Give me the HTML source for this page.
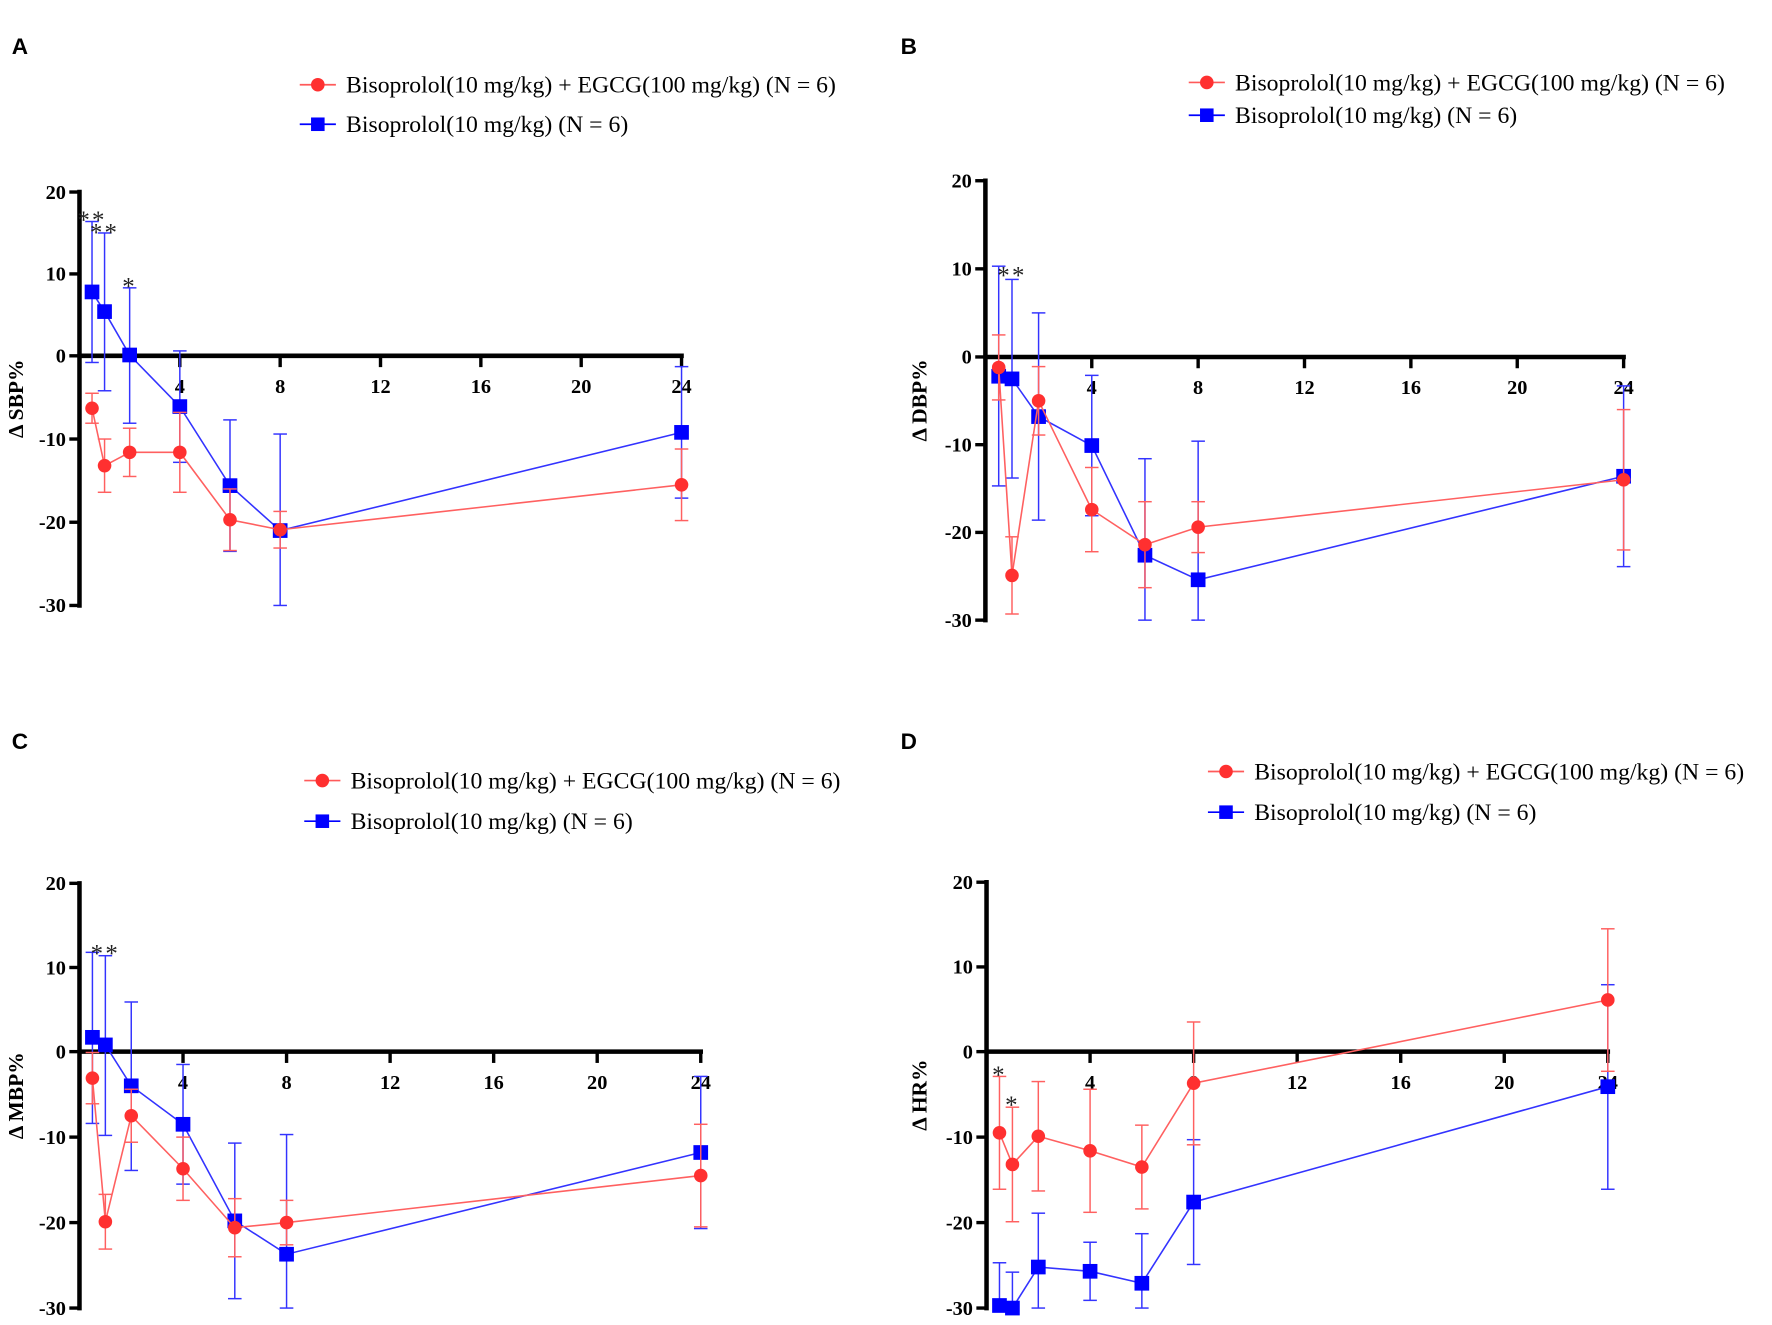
<!DOCTYPE html>
<html><head><meta charset="utf-8">
<style>
html,body{margin:0;padding:0;background:#fff;}
svg{display:block;}
text{font-family:"Liberation Serif",serif;}
.tick{font-weight:bold;font-size:18px;}
.leg{font-size:21px;}
.lab{font-family:"Liberation Sans",sans-serif;font-weight:bold;font-size:20px;}
.ytitle{font-weight:bold;font-size:19px;}
</style></head>
<body>
<svg id="fig" width="1772" height="1325" viewBox="0 0 1568 1173" xmlns="http://www.w3.org/2000/svg"></svg>
<script>
const times = [0.5, 1, 2, 4, 6, 8, 24];
const xTicks = [4, 8, 12, 16, 20, 24];
const yTicks = [20, 10, 0, -10, -20, -30];
const labelRed = "Bisoprolol(10 mg/kg) + EGCG(100 mg/kg) (N = 6)";
const labelBlue = "Bisoprolol(10 mg/kg) (N = 6)";

const sbpRed = [-6.3, -13.2, -11.6, -11.6, -19.7, -20.9, -15.5];
const sbpRedErr = [1.8, 3.2, 2.9, 4.8, 3.7, 2.2, 4.3];
const sbpBlue = [7.8, 5.4, 0.1, -6.1, -15.6, -21.0, -9.2];
const sbpBlueErr = [8.6, 9.6, 8.2, 6.7, 7.9, 11.6, 7.9];

const dbpRed = [-1.2, -24.9, -5.0, -17.4, -21.4, -19.4, -14.0];
const dbpRedErr = [3.7, 4.4, 3.9, 4.8, 4.9, 2.9, 8.0];
const dbpBlue = [-2.2, -2.5, -6.8, -10.1, -22.6, -25.4, -13.6];
const dbpBlueErr = [12.5, 11.3, 11.8, 8.0, 11.0, 15.8, 10.3];

const mbpRed = [-3.1, -19.9, -7.5, -13.7, -20.6, -20.0, -14.5];
const mbpRedErr = [3.0, 3.2, 3.1, 3.7, 3.4, 2.6, 6.0];
const mbpBlue = [1.7, 0.8, -4.0, -8.5, -19.8, -23.7, -11.8];
const mbpBlueErr = [10.1, 10.6, 9.9, 7.0, 9.1, 14.0, 8.9];

const hrRed = [-9.5, -13.2, -9.9, -11.6, -13.5, -3.7, 6.1];
const hrRedErr = [6.6, 6.7, 6.4, 7.2, 4.9, 7.2, 8.4];
const hrBlue = [-29.7, -30.0, -25.2, -25.7, -27.1, -17.6, -4.1];
const hrBlueErr = [5.0, 4.2, 6.3, 3.4, 5.8, 7.3, 12.0];

const svg = document.getElementById('fig');
const NS = "http://www.w3.org/2000/svg";
function mk(tag, attrs, parent){const e=document.createElementNS(NS,tag);for(const k in attrs)e.setAttribute(k,attrs[k]);(parent||svg).appendChild(e);return e;}

const panels = [
 {id:'a',letter:'A',lx:10,ly:48,ax:70,x24:603,y20:170,y0:315,ym30:536,title:'Δ SBP%',tx:20,
  legX:281,legY1:75,legY2:110,red:sbpRed,redE:sbpRedErr,blue:sbpBlue,blueE:sbpBlueErr,
  stars:[{t:0.5,v:16.3,s:'**'},{t:1,v:14.8,s:'**'},{t:2,v:8.2,s:'*'}]},
 {id:'b',letter:'B',lx:797,ly:48,ax:872,x24:1437,y20:160,y0:316,ym30:549,title:'Δ DBP%',tx:820,
  legX:1068,legY1:73,legY2:102,red:dbpRed,redE:dbpRedErr,blue:dbpBlue,blueE:dbpBlueErr,
  stars:[{t:1,v:9.0,s:'**'}]},
 {id:'c',letter:'C',lx:10,ly:663,ax:70,x24:620,y20:782,y0:931,ym30:1158,title:'Δ MBP%',tx:20,
  legX:285,legY1:691,legY2:727,red:mbpRed,redE:mbpRedErr,blue:mbpBlue,blueE:mbpBlueErr,
  stars:[{t:1,v:11.4,s:'**'}]},
 {id:'d',letter:'D',lx:797,ly:663,ax:873,x24:1423,y20:781,y0:931,ym30:1158,title:'Δ HR%',tx:820,
  legX:1085,legY1:683,legY2:719,red:hrRed,redE:hrRedErr,blue:hrBlue,blueE:hrBlueErr,
  stars:[{t:0.5,v:-3.0,s:'*'},{t:1,v:-6.5,s:'*'}]}
];

panels.forEach(p=>{
  const g = mk('g',{});
  
  
  const X = t => p.ax + (p.x24-p.ax)*t/24;
  const Y = v => v>=0 ? p.y0 - (p.y0-p.y20)*v/20 : p.y0 + (p.ym30-p.y0)*(-v)/30;
  const clamp = v => Math.max(-30, Math.min(20, v));

  const lab = mk('text',{x:p.lx,y:p.ly,class:'lab'},g); lab.textContent=p.letter;
  
  

  const lg = mk('g',{},g);
  
  
  mk('line',{x1:p.legX-16,x2:p.legX+16,y1:p.legY1,y2:p.legY1,stroke:'#ff5a5a','stroke-width':1.5},lg);
  mk('circle',{cx:p.legX,cy:p.legY1,r:6,fill:'#ff3030'},lg);
  const t1 = mk('text',{x:p.legX+25,y:p.legY1+7,class:'leg'},lg); t1.textContent=labelRed;
  
  
  mk('line',{x1:p.legX-16,x2:p.legX+16,y1:p.legY2,y2:p.legY2,stroke:'#0000ff','stroke-width':1.5},lg);
  mk('rect',{x:p.legX-6,y:p.legY2-6,width:12,height:12,fill:'#0000ff'},lg);
  const t2 = mk('text',{x:p.legX+25,y:p.legY2+7,class:'leg'},lg); t2.textContent=labelBlue;
  
  

  const yax = mk('line',{x1:p.ax,x2:p.ax,y1:Y(20)-2,y2:Y(-30)+2,stroke:'#000','stroke-width':4},g);
  
  
  yTicks.forEach(v=>{
    mk('line',{x1:p.ax-9,x2:p.ax,y1:Y(v),y2:Y(v),stroke:'#000','stroke-width':3},g);
    const tt = mk('text',{x:p.ax-12,y:Y(v)+6,class:'tick','text-anchor':'end'},g); tt.textContent=v;
    
    
  });
  const xax = mk('line',{x1:p.ax,x2:X(24)+2,y1:p.y0,y2:p.y0,stroke:'#000','stroke-width':4},g);
  
  
  xTicks.forEach(v=>{
    mk('line',{x1:X(v),x2:X(v),y1:p.y0,y2:p.y0+10,stroke:'#000','stroke-width':3},g);
    const tt = mk('text',{x:X(v),y:p.y0+33,class:'tick','text-anchor':'middle'},g); tt.textContent=v;
    
    
  });
  const yt = mk('text',{x:p.tx,y:(p.y20+p.ym30)/2,class:'ytitle','text-anchor':'middle',transform:`rotate(-90 ${p.tx} ${(p.y20+p.ym30)/2})`},g);
  yt.textContent=p.title;
  
  

  function series(vals, errs, color, lineColor, square, name){
    const sg = mk('g',{},g);
    
    
    mk('polyline',{points:vals.map((v,i)=>X(times[i])+','+Y(v)).join(' '),fill:'none',stroke:lineColor,'stroke-width':1.4},sg);
    vals.forEach((v,i)=>{
      const x=X(times[i]);
      const hi=Y(clamp(v+errs[i])), lo=Y(clamp(v-errs[i]));
      const eb = mk('g',{},sg);
      
      
      mk('line',{x1:x,x2:x,y1:hi,y2:lo,stroke:lineColor,'stroke-width':1.3},eb);
      mk('line',{x1:x-6,x2:x+6,y1:hi,y2:hi,stroke:lineColor,'stroke-width':1.3},eb);
      mk('line',{x1:x-6,x2:x+6,y1:lo,y2:lo,stroke:lineColor,'stroke-width':1.3},eb);
      let m;
      if(square) m = mk('rect',{x:x-6.5,y:Y(v)-6.5,width:13,height:13,fill:color},sg);
      else m = mk('circle',{cx:x,cy:Y(v),r:6,fill:color},sg);
      
      
    });
  }
  series(p.blue,p.blueE,'#0000ff','#3333ff',true,'bisoprolol');
  series(p.red,p.redE,'#ff3030','#ff6060',false,'combo');

  p.stars.forEach(s=>{
    const st = mk('text',{x:X(s.t),y:Y(s.v)+5,'font-size':'22px','letter-spacing':'2px','text-anchor':'middle',fill:'#222'},g);
    st.textContent=s.s;
    
    
  });
});
</script>
</body></html>
